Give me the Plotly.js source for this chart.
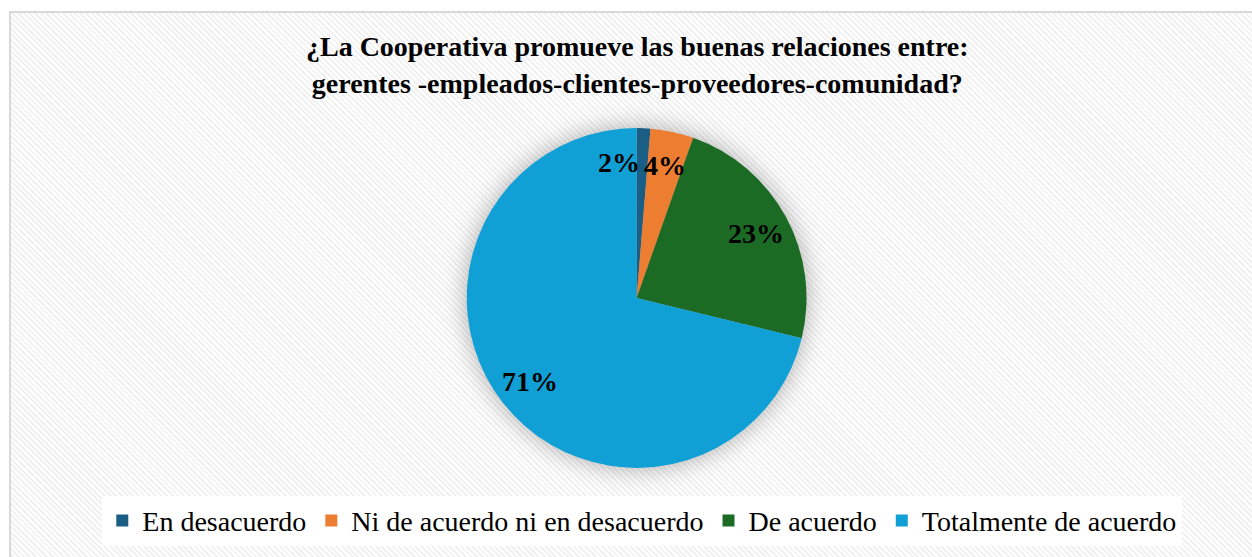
<!DOCTYPE html>
<html>
<head>
<meta charset="utf-8">
<script src="https://cdn.plot.ly/plotly-3.0.1.min.js"></script>
<style>
  html, body { margin: 0; padding: 0; background: #ffffff; }
  #frame {
    position: absolute; left: 9px; top: 11px; width: 1250px; height: 550px;
    border: 2px solid #d9d9d9; box-sizing: border-box;
    background: repeating-linear-gradient(45deg, #ffffff 0px, #ffffff 2px, #f1f1f1 2px, #f1f1f1 4px);
  }
  #chart { position: absolute; left: 0; top: 0; width: 1252px; height: 557px; }
  .pielayer .trace { filter: drop-shadow(0px 0px 12px rgba(0,0,0,0.32)); }
</style>
</head>
<body>
<div id="frame"></div>
<div id="chart"></div>
<script>
const categories = ['En desacuerdo', 'Ni de acuerdo ni en desacuerdo', 'De acuerdo', 'Totalmente de acuerdo'];
const shares = [1.3, 4.1, 23.4, 71.2];
const pctLabels = ['2%', '4%', '23%', '71%'];
const colors = ['#1b5e85', '#ed7d31', '#1b6b25', '#10a0d6'];
const labelAnchors = ['right', 'center', 'center', 'center'];
const titleText = '¿La Cooperativa promueve las buenas relaciones entre:<br>gerentes -empleados-clientes-proveedores-comunidad?';

const W = 1252, H = 557;
const SERIF = 'Liberation Serif, Times New Roman, serif';
const domain = { x: [0.309, 0.708], y: [0.16, 0.77] };

const trace = {
  type: 'pie',
  labels: categories,
  values: shares,
  textinfo: 'none',
  sort: false,
  direction: 'clockwise',
  rotation: 0,
  marker: { colors: colors, line: { width: 0 } },
  domain: domain,
  hoverinfo: 'label+percent'
};

// Data labels placed along each slice's bisector, computed from the shares
const total = shares.reduce((a, b) => a + b, 0);
const cxp = (domain.x[0] + domain.x[1]) / 2;
const cyp = (domain.y[0] + domain.y[1]) / 2;
const Rpx = Math.min((domain.x[1] - domain.x[0]) * W, (domain.y[1] - domain.y[0]) * H) / 2;
const labelRadius = 0.8;
let cum = 0;
const annotations = shares.map((v, i) => {
  const mid = (cum + v / 2) / total * 2 * Math.PI;
  cum += v;
  const r = labelRadius * Rpx;
  return {
    xref: 'paper', yref: 'paper',
    x: cxp + r * Math.sin(mid) / W,
    y: cyp + r * Math.cos(mid) / H,
    xanchor: labelAnchors[i], yanchor: 'middle',
    text: pctLabels[i], showarrow: false,
    font: { family: SERIF, size: 28, color: '#000000', weight: 'bold' }
  };
});

const layout = {
  width: W, height: H,
  margin: { l: 0, r: 0, t: 0, b: 0 },
  paper_bgcolor: 'rgba(0,0,0,0)',
  plot_bgcolor: 'rgba(0,0,0,0)',
  showlegend: true,
  annotations: annotations,
  title: {
    text: titleText,
    x: 0.509, xanchor: 'center',
    y: 0.899, yanchor: 'middle',
    font: { family: SERIF, size: 28, color: '#000000', weight: 'bold' }
  },
  legend: {
    orientation: 'h',
    x: 0.513, xanchor: 'center',
    y: 0.065, yanchor: 'middle',
    bgcolor: '#ffffff',
    font: { family: SERIF, size: 28, color: '#000000' },
    itemwidth: 30,
    traceorder: 'normal'
  }
};

Plotly.newPlot('chart', [trace], layout, { displayModeBar: false, staticPlot: true });
</script>
</body>
</html>
